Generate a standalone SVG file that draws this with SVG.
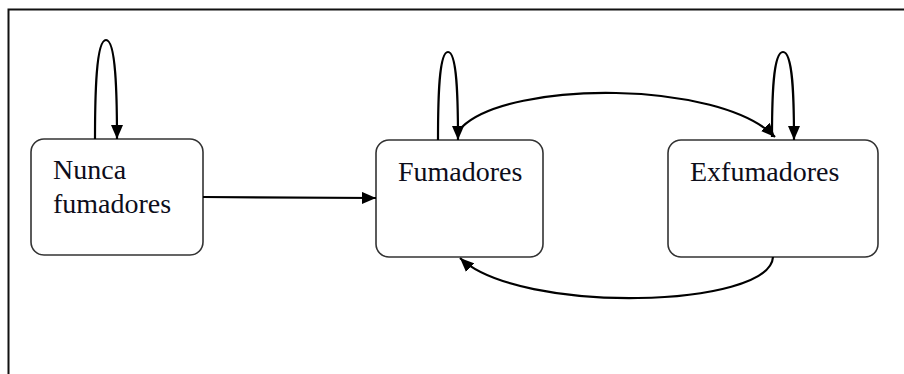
<svg xmlns="http://www.w3.org/2000/svg" width="904" height="374" viewBox="0 0 904 374">
  <style>
    .box { fill: #ffffff; stroke: #333333; stroke-width: 1.6; }
    .label { font-family: "Liberation Serif", "Times New Roman", serif; font-size: 28px; fill: #0d0d1a; }
    .edge { fill: none; stroke: #000000; stroke-width: 2.2; marker-end: url(#arrow); }
    .frame { fill: none; stroke: #111111; stroke-width: 2; }
  </style>
  <defs>
    <marker id="arrow" markerUnits="userSpaceOnUse" markerWidth="14" markerHeight="12" refX="14" refY="6" orient="auto">
      <path d="M0,0 L14,6 L0,12 z" fill="#000000"/>
    </marker>
  </defs>

  <rect width="904" height="374" fill="#ffffff"/>
  <!-- outer frame: left and top edges only -->
  <path class="frame" d="M8.5,380 V9.5 H910"/>

  <g id="nunca-fumadores">
    <rect class="box" x="31" y="139" width="172" height="116" rx="13"/>
    <text class="label" x="53" y="179">Nunca</text>
    <text class="label" x="53" y="213">fumadores</text>
  </g>

  <g id="fumadores">
    <rect class="box" x="376" y="140" width="167" height="117" rx="13"/>
    <text class="label" x="398" y="181">Fumadores</text>
  </g>

  <g id="exfumadores">
    <rect class="box" x="668" y="140" width="210" height="117" rx="13"/>
    <text class="label" x="690" y="181">Exfumadores</text>
  </g>

  <g id="connectors">
    <!-- self loops -->
    <path class="edge" d="M95,139 C95,95 96,40 106,40 C116,40 117,95 117,139"/>
    <path class="edge" d="M438,140 C438,97 439,52 448,52 C457,52 458,97 458,140"/>
    <path class="edge" d="M772,137 C772,97 773,52 783,52 C793,52 794,97 794,140"/>
    <!-- transitions -->
    <path class="edge" d="M203,197 L376,198"/>
    <path class="edge" d="M462,127 C510,80 720,80 775,137"/>
    <path class="edge" d="M773,257 C770,308 520,315 460,258"/>
  </g>
</svg>
